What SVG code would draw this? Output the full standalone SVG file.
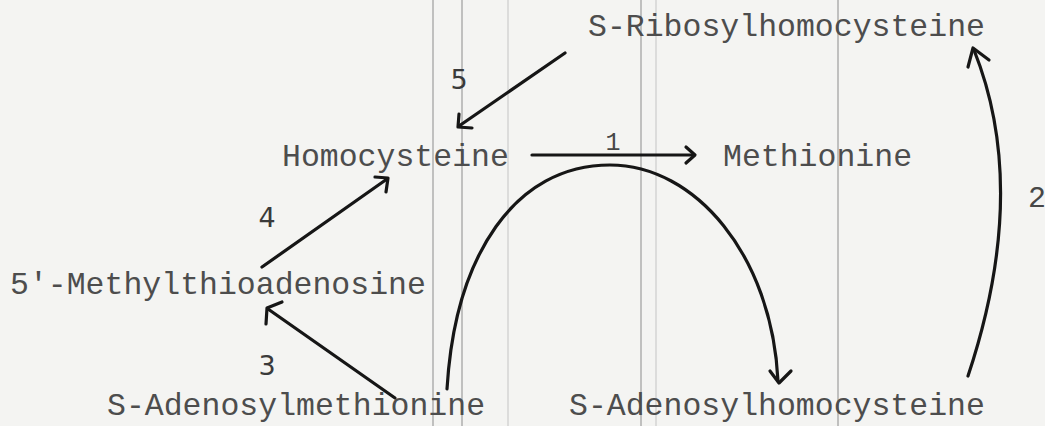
<svg xmlns="http://www.w3.org/2000/svg" width="1045" height="426" viewBox="0 0 1045 426">
<style>
.bg{fill:#f4f4f2}
.fold{stroke:#8c8c8c;stroke-width:1;fill:none}
.fold2{stroke:#c4c4c4;stroke-width:1;fill:none}
.lbl{font-family:"Liberation Mono","Courier New",monospace;font-size:31.5px;fill:#4d4d4d}
.num{font-family:"DejaVu Sans","Liberation Sans",sans-serif;font-size:27px;fill:#3a3a3a}
.tnum{font-family:"Liberation Mono","Courier New",monospace;fill:#474747}
.edge{stroke:#161616;stroke-width:3.2;fill:none;stroke-linecap:round;stroke-linejoin:round}
.head{stroke:#161616;stroke-width:3.2;fill:none;stroke-linecap:round;stroke-linejoin:round}
</style>
<rect class="bg" x="0" y="0" width="1045" height="426"/>
<g id="folds">
<line class="fold" x1="433" y1="0" x2="433" y2="426"/>
<line class="fold" x1="462" y1="0" x2="462" y2="426"/>
<line class="fold2" x1="508" y1="0" x2="508" y2="426"/>
<line class="fold" x1="641" y1="0" x2="641" y2="426"/>
<line class="fold2" x1="656" y1="0" x2="656" y2="426"/>
<line class="fold" x1="838" y1="0" x2="838" y2="426"/>
</g>
<g id="connectors">
<g id="e5">
<path class="edge" d="M565,53 L459,126"/>
<path class="head" d="M459,114 L458,127 L472,128"/>
<text class="num" x="459" y="89" text-anchor="middle">5</text>
</g>
<g id="e1">
<path class="edge" d="M532,155 L694,155"/>
<path class="head" d="M686,147 L695,155 L686,163"/>
<text class="tnum" x="613" y="150" text-anchor="middle" font-size="25">1</text>
</g>
<g id="e4">
<path class="edge" d="M262,267 L387,179"/>
<path class="head" d="M375,177 L388,178 L386,192"/>
<text class="num" x="267" y="227" text-anchor="middle">4</text>
</g>
<g id="e3">
<path class="edge" d="M395,398 L268,309"/>
<path class="head" d="M282,302 L267,308 L266,324"/>
<text class="num" x="267" y="375" text-anchor="middle">3</text>
</g>
<g id="eArc">
<path class="edge" d="M447,389 C455,255 515,165 610,165 C695,165 772,255 778,381"/>
<path class="head" d="M770,371 L779,383 L791,371"/>
</g>
<g id="e2">
<path class="edge" d="M968,376 Q1030,190 974,50"/>
<path class="head" d="M968,67 L973,48 L989,60"/>
<text class="tnum" x="1037" y="207" text-anchor="middle" font-size="30">2</text>
</g>
</g>
<g id="n-sribosyl"><text class="lbl" x="588" y="36">S-Ribosylhomocysteine</text></g>
<g id="n-homocysteine"><text class="lbl" x="282" y="166">Homocysteine</text></g>
<g id="n-methionine"><text class="lbl" x="723" y="166">Methionine</text></g>
<g id="n-mta"><text class="lbl" x="10" y="294">5'-Methylthioadenosine</text></g>
<g id="n-sam"><text class="lbl" x="107" y="415">S-Adenosylmethionine</text></g>
<g id="n-sah"><text class="lbl" x="569" y="415">S-Adenosylhomocysteine</text></g>
</svg>
